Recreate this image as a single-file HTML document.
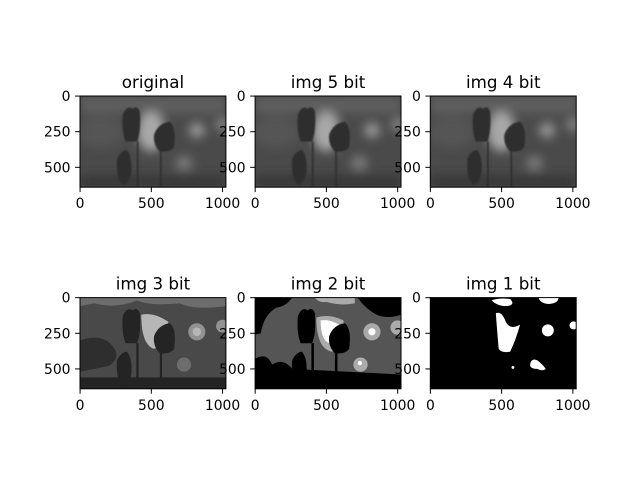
<!DOCTYPE html>
<html><head><meta charset="utf-8"><style>
body{margin:0;background:#fff;}
svg{display:block;font-family:"DejaVu Sans","Liberation Sans",sans-serif;}
</style></head><body>
<svg id="fig" width="640" height="480" viewBox="0 0 640 480">
<defs>
  <filter id="blur8" x="-20%" y="-20%" width="140%" height="140%"><feGaussianBlur stdDeviation="35"/></filter>
  <filter id="blur2"><feGaussianBlur stdDeviation="5"/></filter>
  <g id="scene">
    <rect x="0" y="0" width="1024" height="640" fill="#4a4a4a"/>
    <g filter="url(#blur8)">
      <rect x="0" y="0" width="1024" height="120" fill="#5e5e5e"/>
      <ellipse cx="500" cy="250" rx="100" ry="140" fill="#a8a8a8"/>
      <ellipse cx="150" cy="250" rx="160" ry="120" fill="#545454"/>
      <ellipse cx="820" cy="240" rx="55" ry="50" fill="#9c9c9c"/>
      <ellipse cx="1000" cy="200" rx="45" ry="45" fill="#8c8c8c"/>
      <ellipse cx="730" cy="470" rx="55" ry="45" fill="#828282"/>
      <rect x="0" y="560" width="1024" height="80" fill="#353535"/>
    </g>
    <g filter="url(#blur2)" fill="#2e2e2e">
      <rect x="398" y="320" width="12" height="320"/>
      <rect x="562" y="390" width="12" height="250"/>
      <path d="M300 130 Q330 60 370 90 Q400 60 420 110 Q430 250 400 320 L320 320 Q290 250 300 130Z"/>
      <path d="M520 270 Q550 190 630 180 Q680 220 660 360 Q630 400 560 390 Q510 340 520 270Z"/>
      <path d="M260 440 Q290 380 330 380 Q370 430 360 540 Q340 620 300 620 Q250 580 260 440Z"/>
    </g>
  </g>
</defs>

<g transform="translate(80,96)">
  <svg width="145.9" height="91.2" viewBox="0 0 1024 640" preserveAspectRatio="none"><use href="#scene"/></svg>
</g>
<g transform="translate(255.1,96)">
  <svg width="145.9" height="91.2" viewBox="0 0 1024 640" preserveAspectRatio="none"><use href="#scene"/></svg>
</g>
<g transform="translate(430.3,96)">
  <svg width="145.9" height="91.2" viewBox="0 0 1024 640" preserveAspectRatio="none"><use href="#scene"/></svg>
</g>

<g transform="translate(80,297.6)">
  <svg width="145.9" height="91.2" viewBox="0 0 1024 640" preserveAspectRatio="none">
    <rect width="1024" height="640" fill="#494949"/>
    <path d="M0 0 H1024 V60 Q800 90 700 40 Q500 60 400 20 Q250 80 100 40 L0 60Z" fill="#6d6d6d"/>
    <path d="M0 300 Q150 250 220 330 Q300 420 200 480 L0 520Z" fill="#2e2e2e"/>
    <rect x="0" y="560" width="1024" height="80" fill="#242424"/>
    <path d="M430 120 Q520 100 620 170 Q600 330 520 360 Q430 330 430 120Z" fill="#b6b6b6"/>
    <circle cx="820" cy="240" r="60" fill="#929292"/>
    <circle cx="820" cy="240" r="30" fill="#b6b6b6"/>
    <circle cx="1000" cy="200" r="45" fill="#929292"/>
    <circle cx="730" cy="470" r="50" fill="#6d6d6d"/>
    <g fill="#242424">
      <rect x="395" y="320" width="16" height="320"/><rect x="560" y="390" width="16" height="250"/>
      <path d="M300 130 Q330 60 370 90 Q400 60 420 110 Q430 250 400 320 L320 320 Q290 250 300 130Z"/>
      <path d="M520 270 Q550 190 630 180 Q680 220 660 360 Q630 400 560 390 Q510 340 520 270Z"/>
      <path d="M260 440 Q290 380 330 380 Q370 430 360 540 Q340 620 300 620 Q250 580 260 440Z"/>
    </g>
  </svg>
</g>

<g transform="translate(255.1,297.6)">
  <svg width="145.9" height="91.2" viewBox="0 0 1024 640" preserveAspectRatio="none">
    <rect width="1024" height="640" fill="#555555"/>
    <path d="M0 0 H260 Q220 60 150 70 Q60 120 40 250 L0 260Z" fill="#000"/>
    <path d="M720 0 H1024 V120 Q900 160 820 100 Q760 60 720 0Z" fill="#000"/>
    <path d="M0 430 Q80 380 120 470 Q200 420 260 500 L1024 540 V640 H0Z" fill="#000"/>
    <path d="M420 0 H700 V40 Q600 60 500 30 Q450 40 420 0Z" fill="#aaaaaa"/>
    <path d="M430 140 Q520 110 620 160 Q640 330 540 380 Q430 360 430 140Z" fill="#aaaaaa"/>
    <path d="M460 160 Q520 150 590 190 Q570 300 520 320 Q460 300 460 160Z" fill="#fff"/>
    <circle cx="820" cy="240" r="60" fill="#aaaaaa"/><circle cx="820" cy="240" r="25" fill="#fff"/>
    <circle cx="1000" cy="210" r="50" fill="#aaaaaa"/>
    <circle cx="740" cy="470" r="50" fill="#aaaaaa"/><circle cx="735" cy="460" r="15" fill="#fff"/>
    <g fill="#000">
      <rect x="395" y="320" width="18" height="320"/><rect x="560" y="390" width="18" height="250"/>
      <path d="M300 130 Q330 60 370 90 Q400 60 420 110 Q430 250 400 320 L320 320 Q290 250 300 130Z"/>
      <path d="M520 270 Q550 190 630 180 Q680 220 660 360 Q630 400 560 390 Q510 340 520 270Z"/>
      <path d="M260 440 Q290 380 330 380 Q370 430 360 540 Q340 620 300 620 Q250 580 260 440Z"/>
    </g>
  </svg>
</g>

<g transform="translate(430.3,297.6)">
  <svg width="145.9" height="91.2" viewBox="0 0 1024 640" preserveAspectRatio="none">
    <rect width="1024" height="640" fill="#000"/>
    <g fill="#fff">
      <path d="M430 20 Q480 0 560 10 Q600 50 540 60 Q470 60 430 20Z"/>
      <path d="M760 0 H900 Q900 40 830 45 Q770 40 760 0Z"/>
      <path d="M460 110 Q500 90 530 170 Q560 230 630 190 Q600 300 560 380 Q500 390 480 360 Q470 250 460 110Z"/>
      <circle cx="825" cy="230" r="42"/>
      <circle cx="1005" cy="195" r="28"/>
      <path d="M700 470 Q710 420 750 440 Q790 470 810 500 Q790 520 750 500 Q700 500 700 470Z"/>
      <circle cx="580" cy="490" r="10"/>
    </g>
  </svg>
</g>

<script>
const titles = ["original","img 5 bit","img 4 bit","img 3 bit","img 2 bit","img 1 bit"];
const xTicks = [0,500,1000];
const yTicks = [0,250,500];
const imgW = 1024, imgH = 640;
const cols = [80,255.1,430.3], rows = [96,297.6];
const aw = 145.9, ah = 91.2;
const svg = document.getElementById('fig');
const NS = "http://www.w3.org/2000/svg";
function mk(tag, attrs){const e=document.createElementNS(NS,tag);for(const k in attrs)e.setAttribute(k,attrs[k]);svg.appendChild(e);return e;}
const xs = v => (v+0.5)/imgW*aw;
const ys = v => (v+0.5)/imgH*ah;
titles.forEach((t,i)=>{
  const x0 = cols[i%3], y0 = rows[Math.floor(i/3)];
  const fr = mk('rect',{x:x0,y:y0,width:aw,height:ah,fill:'none',stroke:'#000','stroke-width':1});
  
  
  const tt = mk('text',{x:x0+aw/2,y:y0-8,'text-anchor':'middle','font-size':16.7});
  tt.textContent = t;
  
  
  xTicks.forEach(v=>{
    const x = x0+xs(v);
    const l = mk('line',{x1:x,x2:x,y1:y0+ah,y2:y0+ah+4.9,stroke:'#000','stroke-width':1});
    
    
    const tx = mk('text',{x:x,y:y0+ah+21,'text-anchor':'middle','font-size':13.9});
    tx.textContent = v;
    
    
  });
  yTicks.forEach(v=>{
    const y = y0+ys(v);
    const l = mk('line',{x1:x0-4.9,x2:x0,y1:y,y2:y,stroke:'#000','stroke-width':1});
    
    
    const tx = mk('text',{x:x0-9.5,y:y+5,'text-anchor':'end','font-size':13.9});
    tx.textContent = v;
    
    
  });
});
</script>
</svg>
</body></html>
